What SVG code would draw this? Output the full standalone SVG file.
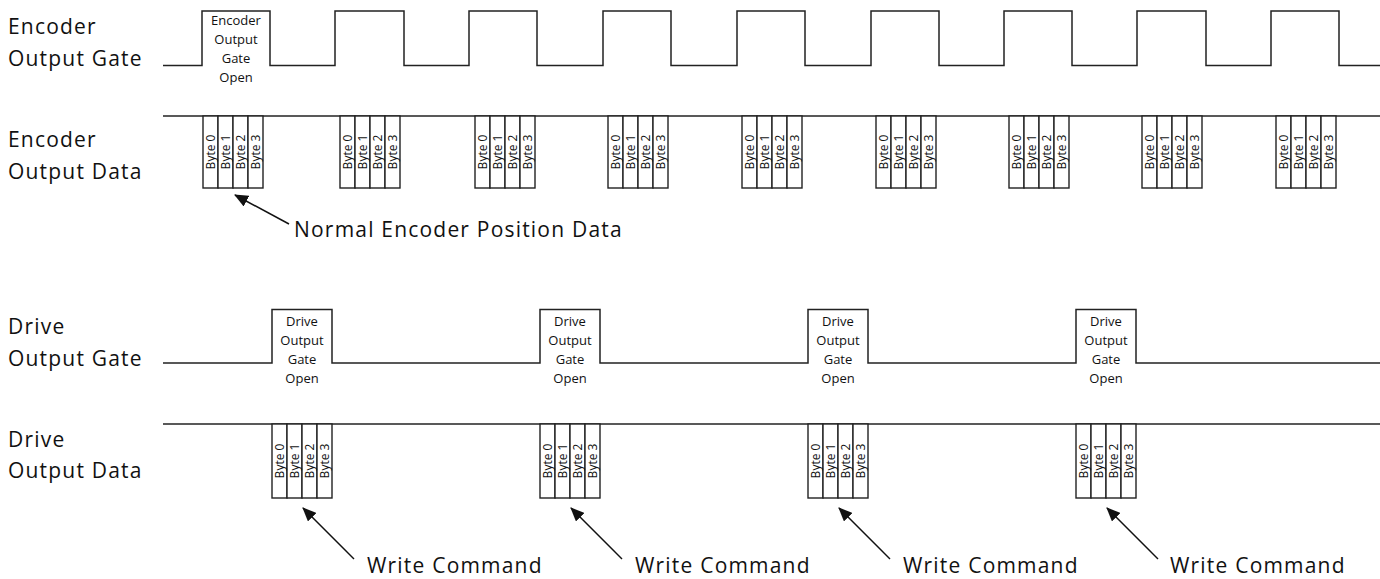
<svg xmlns="http://www.w3.org/2000/svg" width="1380" height="579" viewBox="0 0 1380 579">
<style>
.sig{fill:none;stroke:#222;stroke-width:1.5}
.box{fill:#fff;stroke:#222;stroke-width:1.4}
.lbl{font-family:"Open Sans","Liberation Sans",sans-serif;font-size:21px;fill:#111;letter-spacing:1.2px}
.pt{font-family:"Open Sans","Liberation Sans",sans-serif;font-size:13px;fill:#111;text-anchor:middle}
.bt{font-family:"Open Sans","Liberation Sans",sans-serif;font-size:12px;fill:#111;text-anchor:middle}
.arr{stroke:#111;stroke-width:1.5;fill:none}
</style>
<defs>
<marker id="ahb" viewBox="0 0 14 12" refX="13" refY="6" markerWidth="14" markerHeight="12" markerUnits="userSpaceOnUse" orient="auto">
<path d="M0,0 L14,6 L0,12 z" fill="#111"/>
</marker>
<g id="bytes">
<rect class="box" x="0" y="0" width="15" height="72"/>
<rect class="box" x="15" y="0" width="15" height="72"/>
<rect class="box" x="30" y="0" width="15" height="72"/>
<rect class="box" x="45" y="0" width="15" height="72"/>
<text class="bt" transform="translate(11.8,36) rotate(-90)">Byte 0</text>
<text class="bt" transform="translate(26.8,36) rotate(-90)">Byte 1</text>
<text class="bt" transform="translate(41.8,36) rotate(-90)">Byte 2</text>
<text class="bt" transform="translate(56.8,36) rotate(-90)">Byte 3</text>
</g>
<g id="bytesD">
<rect class="box" x="0" y="0" width="15" height="74"/>
<rect class="box" x="15" y="0" width="15" height="74"/>
<rect class="box" x="30" y="0" width="15" height="74"/>
<rect class="box" x="45" y="0" width="15" height="74"/>
<text class="bt" transform="translate(11.8,37) rotate(-90)">Byte 0</text>
<text class="bt" transform="translate(26.8,37) rotate(-90)">Byte 1</text>
<text class="bt" transform="translate(41.8,37) rotate(-90)">Byte 2</text>
<text class="bt" transform="translate(56.8,37) rotate(-90)">Byte 3</text>
</g>
</defs>
<rect x="0" y="0" width="1380" height="579" fill="#fff"/>

<g id="labels">
<text class="lbl" x="8" y="34">Encoder</text>
<text class="lbl" x="8" y="66">Output Gate</text>
<text class="lbl" x="8" y="147">Encoder</text>
<text class="lbl" x="8" y="179">Output Data</text>
<text class="lbl" x="8" y="334">Drive</text>
<text class="lbl" x="8" y="366">Output Gate</text>
<text class="lbl" x="8" y="447">Drive</text>
<text class="lbl" x="8" y="478">Output Data</text>
</g>

<g id="encoder-gate">
<polyline class="sig" points="163,65.5 202,65.5 202,11 270,11 270,65.5 335,65.5 335,11 404,11 404,65.5 469,65.5 469,11 537,11 537,65.5 603,65.5 603,11 671,11 671,65.5 737,65.5 737,11 805,11 805,65.5 871,65.5 871,11 939,11 939,65.5 1004,65.5 1004,11 1072,11 1072,65.5 1137,65.5 1137,11 1206,11 1206,65.5 1271,65.5 1271,11 1339,11 1339,65.5 1380,65.5"/>
<text class="pt" x="236" y="25">Encoder</text>
<text class="pt" x="236" y="44">Output</text>
<text class="pt" x="236" y="63">Gate</text>
<text class="pt" x="236" y="82">Open</text>
</g>

<g id="encoder-data">
<line class="sig" x1="163" y1="116" x2="1380" y2="116"/>
<use href="#bytes" x="203" y="116"/>
<use href="#bytes" x="340" y="116"/>
<use href="#bytes" x="475" y="116"/>
<use href="#bytes" x="608" y="116"/>
<use href="#bytes" x="742" y="116"/>
<use href="#bytes" x="876" y="116"/>
<use href="#bytes" x="1009" y="116"/>
<use href="#bytes" x="1142" y="116"/>
<use href="#bytes" x="1276" y="116"/>
</g>

<g id="drive-gate">
<polyline class="sig" points="163,363 272,363 272,309.5 332,309.5 332,363 540,363 540,309.5 600,309.5 600,363 808,363 808,309.5 868,309.5 868,363 1076,363 1076,309.5 1136,309.5 1136,363 1380,363"/>
<g id="dg1"><text class="pt" x="302" y="326">Drive</text><text class="pt" x="302" y="345">Output</text><text class="pt" x="302" y="364">Gate</text><text class="pt" x="302" y="383">Open</text></g>
<g id="dg2"><text class="pt" x="570" y="326">Drive</text><text class="pt" x="570" y="345">Output</text><text class="pt" x="570" y="364">Gate</text><text class="pt" x="570" y="383">Open</text></g>
<g id="dg3"><text class="pt" x="838" y="326">Drive</text><text class="pt" x="838" y="345">Output</text><text class="pt" x="838" y="364">Gate</text><text class="pt" x="838" y="383">Open</text></g>
<g id="dg4"><text class="pt" x="1106" y="326">Drive</text><text class="pt" x="1106" y="345">Output</text><text class="pt" x="1106" y="364">Gate</text><text class="pt" x="1106" y="383">Open</text></g>
</g>

<g id="drive-data">
<line class="sig" x1="163" y1="424" x2="1380" y2="424"/>
<use href="#bytesD" x="272" y="424"/>
<use href="#bytesD" x="540" y="424"/>
<use href="#bytesD" x="808" y="424"/>
<use href="#bytesD" x="1076" y="424"/>
</g>

<g id="connectors">
<line class="arr" x1="289" y1="224" x2="235" y2="195" marker-end="url(#ahb)"/>
<line class="arr" x1="354" y1="559" x2="303" y2="508" marker-end="url(#ahb)"/>
<line class="arr" x1="622" y1="559" x2="571" y2="508" marker-end="url(#ahb)"/>
<line class="arr" x1="890" y1="559" x2="839" y2="508" marker-end="url(#ahb)"/>
<line class="arr" x1="1158" y1="559" x2="1107" y2="508" marker-end="url(#ahb)"/>
</g>

<g id="annotations">
<text class="lbl" x="294" y="237">Normal Encoder Position Data</text>
<text class="lbl" x="367" y="573">Write Command</text>
<text class="lbl" x="635" y="573">Write Command</text>
<text class="lbl" x="903" y="573">Write Command</text>
<text class="lbl" x="1170" y="573">Write Command</text>
</g>
</svg>
